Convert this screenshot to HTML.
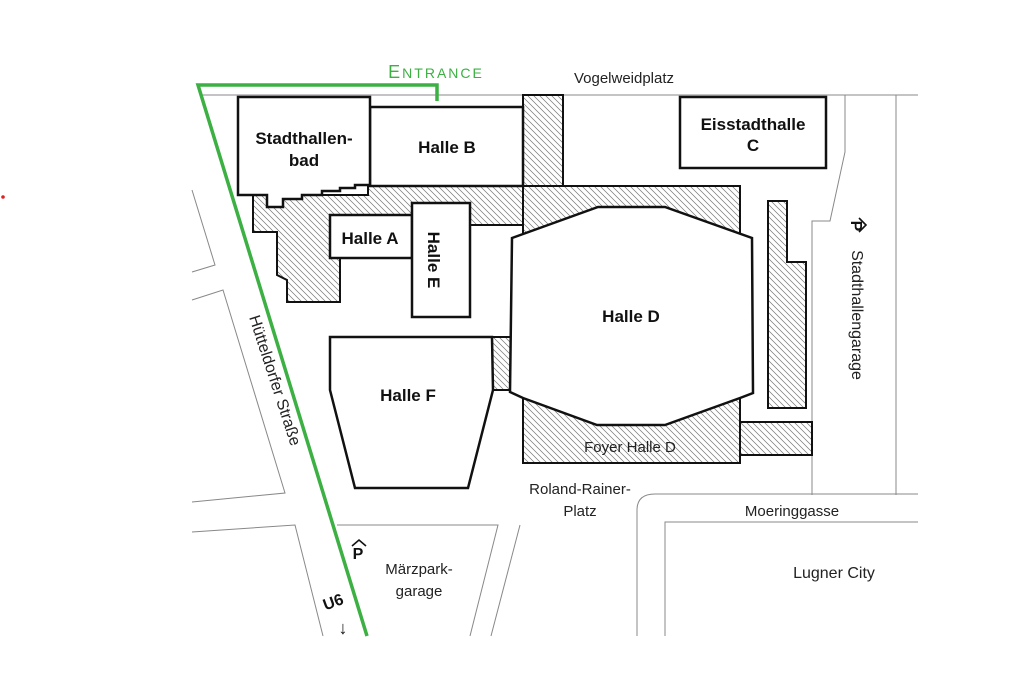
<!DOCTYPE html>
<html><head><meta charset="utf-8"><style>
html,body{margin:0;padding:0;background:#fff;}
svg{display:block;}
text{font-family:"Liberation Sans",Arial,sans-serif;}
</style></head><body>
<svg width="1021" height="683" viewBox="0 0 1021 683" xmlns="http://www.w3.org/2000/svg">
<defs>
<pattern id="h" width="6" height="6" patternUnits="userSpaceOnUse">
<path d="M-1,-1 L7,7 M-1,5 L1,7 M5,-1 L7,1" stroke="#777" stroke-width="0.7"/>
</pattern>
</defs>
<rect width="1021" height="683" fill="#fff"/>
<circle cx="3" cy="197" r="1.8" fill="#d22"/>
<g fill="none" stroke="#888" stroke-width="1">
<path d="M200,95 L918,95"/>
<path d="M845,95 L845,152 L830,221 L812,221 L812,495"/>
<path d="M896,95 L896,495"/>
<path d="M192,190 L215,265 L192,272"/>
<path d="M192,300 L223,290 L285,493 L192,502"/>
<path d="M192,532 L295,525 L323,636"/>
<path d="M337,525 L498,525 L470,636"/>
<path d="M520,525 L491,636"/>
<path d="M637,636 L637,510 Q637,494 655,494 L918,494"/>
<path d="M665,636 L665,522 L918,522"/>
</g>
<g fill="url(#h)" stroke="#111" stroke-width="2">
<path d="M253,195 L253,232 L277,232 L277,275 L287,280 L287,302 L340,302 L340,258 L412,258 L412,225 L523,225 L523,186 L368,186 L368,195 Z"/>
<rect x="523" y="95" width="40" height="91"/>
<rect x="523" y="186" width="217" height="277"/>
<rect x="740" y="422" width="72" height="33"/>
<rect x="492" y="337" width="20" height="53"/>
<path d="M768,201 L787,201 L787,262 L806,262 L806,408 L768,408 Z"/>
</g>
<g fill="#fff" stroke="#111" stroke-width="2.5">
<rect x="370" y="107" width="153" height="79"/>
<path d="M238,97 L370,97 L370,185 L355,185 L355,188 L340,188 L340,191 L322,191 L322,195 L302,195 L302,199 L283,199 L283,207 L267,207 L267,195 L238,195 Z"/>
<rect x="330" y="215" width="82" height="43"/>
<rect x="412" y="203" width="58" height="114"/>
<rect x="680" y="97" width="146" height="71"/>
<path d="M512,238 L598,207 L665,207 L752,238 L753,393 L740,398 L665,425 L597,425 L523,398 L510,392 Z"/>
<path d="M330,337 L492,337 L493,390 L468,488 L355,488 L330,390 Z"/>
</g>
<path d="M437,101 L437,85 L198,85 L367,636" fill="none" stroke="#3cb043" stroke-width="3.5"/>
<g font-weight="bold" fill="#111" font-size="17" text-anchor="middle">
<text x="304" y="144">Stadthallen-</text>
<text x="304" y="166">bad</text>
<text x="447" y="153">Halle B</text>
<text x="370" y="244">Halle A</text>
<text x="753" y="130">Eisstadthalle</text>
<text x="753" y="151">C</text>
<text x="631" y="322">Halle D</text>
<text x="408" y="401">Halle F</text>
<text transform="translate(434,260) rotate(90)" x="0" y="6">Halle E</text>
</g>
<text x="436" y="78" fill="#3cb043" font-family="Liberation Serif,serif" font-size="18" text-anchor="middle" letter-spacing="2">E<tspan font-size="14">NTRANCE</tspan></text>
<g fill="#222" font-size="15" text-anchor="middle">
<text x="624" y="83">Vogelweidplatz</text>
<text x="630" y="452">Foyer Halle D</text>
<text x="580" y="494">Roland-Rainer-</text>
<text x="580" y="516">Platz</text>
<text x="792" y="516">Moeringgasse</text>
<text x="834" y="578" font-size="16">Lugner City</text>
<text x="419" y="574">Märzpark-</text>
<text x="419" y="596">garage</text>
<text transform="translate(270,382) rotate(72)" x="0" y="0" font-size="16">Hütteldorfer Straße</text>
<text transform="translate(852,315) rotate(90)" x="0" y="0" font-size="16">Stadthallengarage</text>
</g>
<g font-weight="bold" fill="#111" font-size="16">
<text x="358" y="559" text-anchor="middle">P</text>
<path d="M352,546 L359,540 L366,546" fill="none" stroke="#111" stroke-width="1.6"/>
<text transform="translate(851,226) rotate(90)" x="0" y="0" text-anchor="middle">P</text>
<path d="M859,218 L866,225 L859,232" fill="none" stroke="#111" stroke-width="1.6"/>
<text transform="translate(335,607) rotate(-20)" x="0" y="0" text-anchor="middle">U6</text>
<text x="343" y="634" font-weight="normal" font-size="18" text-anchor="middle">↓</text>
</g>
</svg>
</body></html>
